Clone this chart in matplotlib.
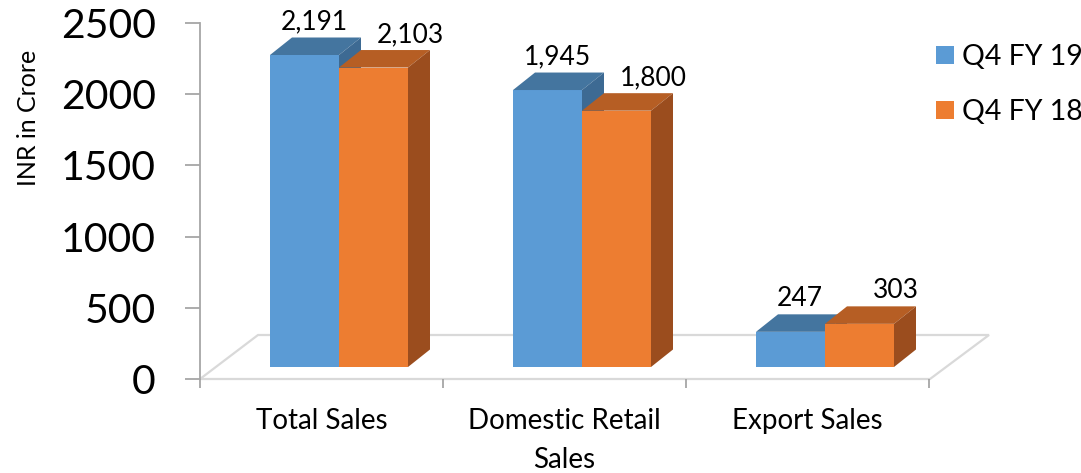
import matplotlib
matplotlib.use('Agg')
import matplotlib.pyplot as plt
from matplotlib.patches import Polygon

categories = ['Total Sales', 'Domestic Retail\nSales', 'Export Sales']
series_names = ['Q4 FY 19', 'Q4 FY 18']
q4_fy19 = [2191, 1945, 247]
q4_fy18 = [2103, 1800, 303]
labels_fy19 = ['2,191', '1,945', '247']
labels_fy18 = ['2,103', '1,800', '303']
y_ticks = [0, 500, 1000, 1500, 2000, 2500]

plt.rcParams['font.family'] = ['Lato', 'DejaVu Sans']

W, H = 1081, 473
fig = plt.figure(figsize=(W / 100, H / 100), dpi=100)
AX_L, AX_R, AX_B, AX_T = 200, 1000, 379, 23
CAT_PX = 243
ax = fig.add_axes([AX_L / W, (H - AX_B) / H, (AX_R - AX_L) / W, (AX_B - AX_T) / H])
ax.set_ylim(0, 2500)
ax.set_xlim(0, (AX_R - AX_L) / CAT_PX)
PX_X = 1 / CAT_PX
PX_Y = 2500 / (AX_B - AX_T)

base = 12 * PX_Y
dxx = 22 * PX_X
dyy = 17.5 * PX_Y
bar_w = 69 * PX_X
first = 70 * PX_X

grid_c = '#D9D9D9'
axis_c = '#A6A6A6'

# floor
floor = Polygon([(0, 0), (730 * PX_X, 0), (789 * PX_X, 44 * PX_Y), (58 * PX_X, 44 * PX_Y)],
                closed=True, facecolor='none', edgecolor=grid_c, lw=1.6, zorder=1, clip_on=False)
ax.add_patch(floor)

styles = [
    dict(front='#5B9BD5', top='#44759F', side='#3D6A93'),
    dict(front='#ED7D31', top='#B65E24', side='#9B4D1E'),
]
series = [q4_fy19, q4_fy18]
labels = [labels_fy19, labels_fy18]
label_off = [0.04, 0.15]

z = 2
handles = []
for i in range(len(categories)):
    for j, vals in enumerate(series):
        v = vals[i]
        st = styles[j]
        xl = i + first + j * bar_w
        b = ax.bar(xl, v, width=bar_w, bottom=base, align='edge', color=st['front'],
                   lw=0, zorder=z, label=series_names[j] if i == 0 else None)
        if i == 0:
            handles.append(b)
        top = base + v
        ax.add_patch(Polygon([(xl, top), (xl + bar_w, top), (xl + bar_w + dxx, top + dyy),
                              (xl + dxx, top + dyy)], closed=True, facecolor=st['top'],
                             lw=0, zorder=z))
        ax.add_patch(Polygon([(xl + bar_w, base), (xl + bar_w + dxx, base + dyy),
                              (xl + bar_w + dxx, top + dyy), (xl + bar_w, top)], closed=True,
                             facecolor=st['side'], lw=0, zorder=z))
        ax.text(xl + bar_w / 2 + label_off[j], top + dyy + 8 * PX_Y, labels[j][i],
                ha='center', va='baseline', fontsize=19, color='black', zorder=10)
        z += 1

for s in ['top', 'right', 'bottom']:
    ax.spines[s].set_visible(False)
ax.spines['left'].set_color(axis_c)
ax.spines['left'].set_linewidth(1.3)

ax.set_yticks(y_ticks)
ax.set_yticklabels([str(t) for t in y_ticks], fontsize=29.5)
ax.tick_params(axis='y', direction='out', length=10.8, width=1.3, color=axis_c, pad=21)

ax.set_xticks([0, 1, 2, 3])
ax.set_xticklabels([''] * 4)
ax.set_xticks([0.5, 1.5, 2.5], minor=True)
ax.set_xticklabels(categories, minor=True, fontsize=20, linespacing=1.6, va='top')
ax.tick_params(axis='x', which='major', direction='out', length=6.5, width=1.3, color=axis_c)
ax.tick_params(axis='x', which='minor', length=0, pad=21)

fig.text(28 / W, 1 - 118 / H, 'INR in Crore', rotation=90, ha='center', va='center', fontsize=18)

leg = fig.legend(handles=handles, labels=series_names, loc='upper left',
                 bbox_to_anchor=(936 / W, 1 - 44 / H), frameon=False, fontsize=20.5,
                 handlelength=0.62, handleheight=0.62, handletextpad=0.3,
                 labelspacing=1.02, borderpad=0, borderaxespad=0)

fig.savefig('out.png', dpi=100)
